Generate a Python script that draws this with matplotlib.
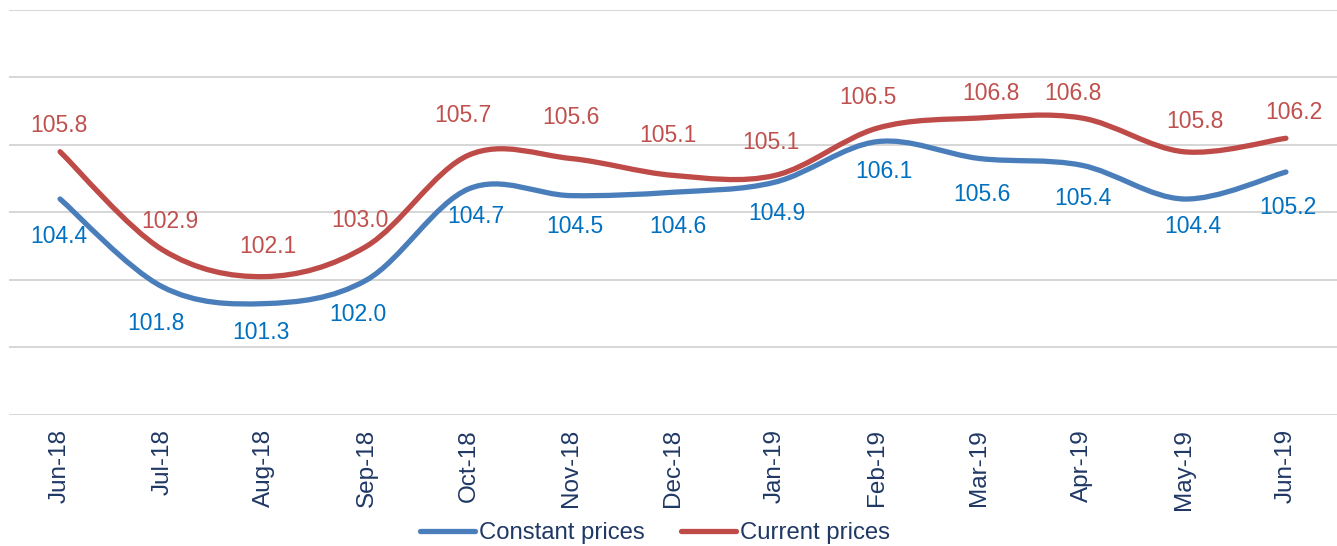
import numpy as np
import matplotlib
matplotlib.use("Agg")
import matplotlib.pyplot as plt
from matplotlib.path import Path
from matplotlib.patches import PathPatch
from matplotlib.lines import Line2D

plt.rcParams['font.family'] = ['Liberation Sans', 'DejaVu Sans']

months = ["Jun-18", "Jul-18", "Aug-18", "Sep-18", "Oct-18", "Nov-18", "Dec-18",
          "Jan-19", "Feb-19", "Mar-19", "Apr-19", "May-19", "Jun-19"]
constant_prices = [104.4, 101.8, 101.3, 102.0, 104.7, 104.5, 104.6, 104.9, 106.1, 105.6, 105.4, 104.4, 105.2]
current_prices = [105.8, 102.9, 102.1, 103.0, 105.7, 105.6, 105.1, 105.1, 106.5, 106.8, 106.8, 105.8, 106.2]

# label offsets in pixels (layout only)
cur_dx = [-1, 8, 3, -7, -6, 0, -5, -4, -9, 11, -9, 11, 8]
cur_dy = [26, 28, 30, 26, 40, 41, 40, 33, 31, 24, 24, 30, 26]
con_dx = [-1, -6, -3, -9, 7, 4, 5, 2, 7, 2, 1, 9, 2]
con_dy = [-38, -37, -29, -35, -28, -31, -34, -31, -30, -36, -33, -28, -36]

BLUE_LINE = "#4A7EBB"
RED_LINE = "#BE4B48"
BLUE_TXT = "#0070C0"
RED_TXT = "#C0504D"
NAVY = "#1F3864"

fig = plt.figure(figsize=(13.37, 5.46), dpi=100)
ax = fig.add_axes([9/1337, 131/546, 1328/1337, 405/546])
ax.set_xlim(-0.5, len(months) - 0.5)
ax.set_ylim(98, 110)


def smooth_path(x, y):
    x = np.asarray(x, float); y = np.asarray(y, float)
    pts = np.column_stack([x, y])
    n = len(pts)
    verts = [pts[0]]
    codes = [Path.MOVETO]
    for i in range(n - 1):
        p0 = pts[i - 1] if i > 0 else pts[i]
        p1 = pts[i]
        p2 = pts[i + 1]
        p3 = pts[i + 2] if i + 2 < n else pts[i + 1]
        c1 = p1 + (p2 - p0) / 6.0
        c2 = p2 - (p3 - p1) / 6.0
        verts += [c1, c2, p2]
        codes += [Path.CURVE4] * 3
    return Path(verts, codes)


xs = np.arange(len(months))
for vals, col in [(constant_prices, BLUE_LINE), (current_prices, RED_LINE)]:
    patch = PathPatch(smooth_path(xs, vals), facecolor="none", edgecolor=col,
                      lw=3.8, capstyle="round", joinstyle="round", zorder=3)
    ax.add_patch(patch)

for x, v, dx, dy in zip(xs, current_prices, cur_dx, cur_dy):
    ax.annotate(f"{v:.1f}", (x, v), xytext=(dx, dy), textcoords="offset pixels",
                ha="center", va="center", fontsize=16.5, color=RED_TXT, zorder=4)
for x, v, dx, dy in zip(xs, constant_prices, con_dx, con_dy):
    ax.annotate(f"{v:.1f}", (x, v), xytext=(dx, dy), textcoords="offset pixels",
                ha="center", va="center", fontsize=16.5, color=BLUE_TXT, zorder=4)

ax.set_yticks(np.arange(98, 111, 2))
ax.yaxis.grid(True, color="#D0D0D0", lw=1.2)
ax.set_axisbelow(True)
ax.tick_params(axis="y", left=False, labelleft=False)
ax.set_xticks(xs)
ax.set_xticklabels(months, rotation=90, fontsize=17.5, color=NAVY)
ax.tick_params(axis="x", length=0, pad=10)
for s in ax.spines.values():
    s.set_visible(False)

handles = [Line2D([], [], color=BLUE_LINE, lw=3.8, solid_capstyle="round"),
           Line2D([], [], color=RED_LINE, lw=3.8, solid_capstyle="round")]
fig.legend(handles, ["Constant prices", "Current prices"], loc="center",
           bbox_to_anchor=(655/1337, 1 - 533/546), ncol=2, frameon=False,
           fontsize=17.2, handlelength=2.3, handletextpad=0.17, columnspacing=1.55,
           labelcolor=NAVY)

fig.savefig("out.png", dpi=100)
